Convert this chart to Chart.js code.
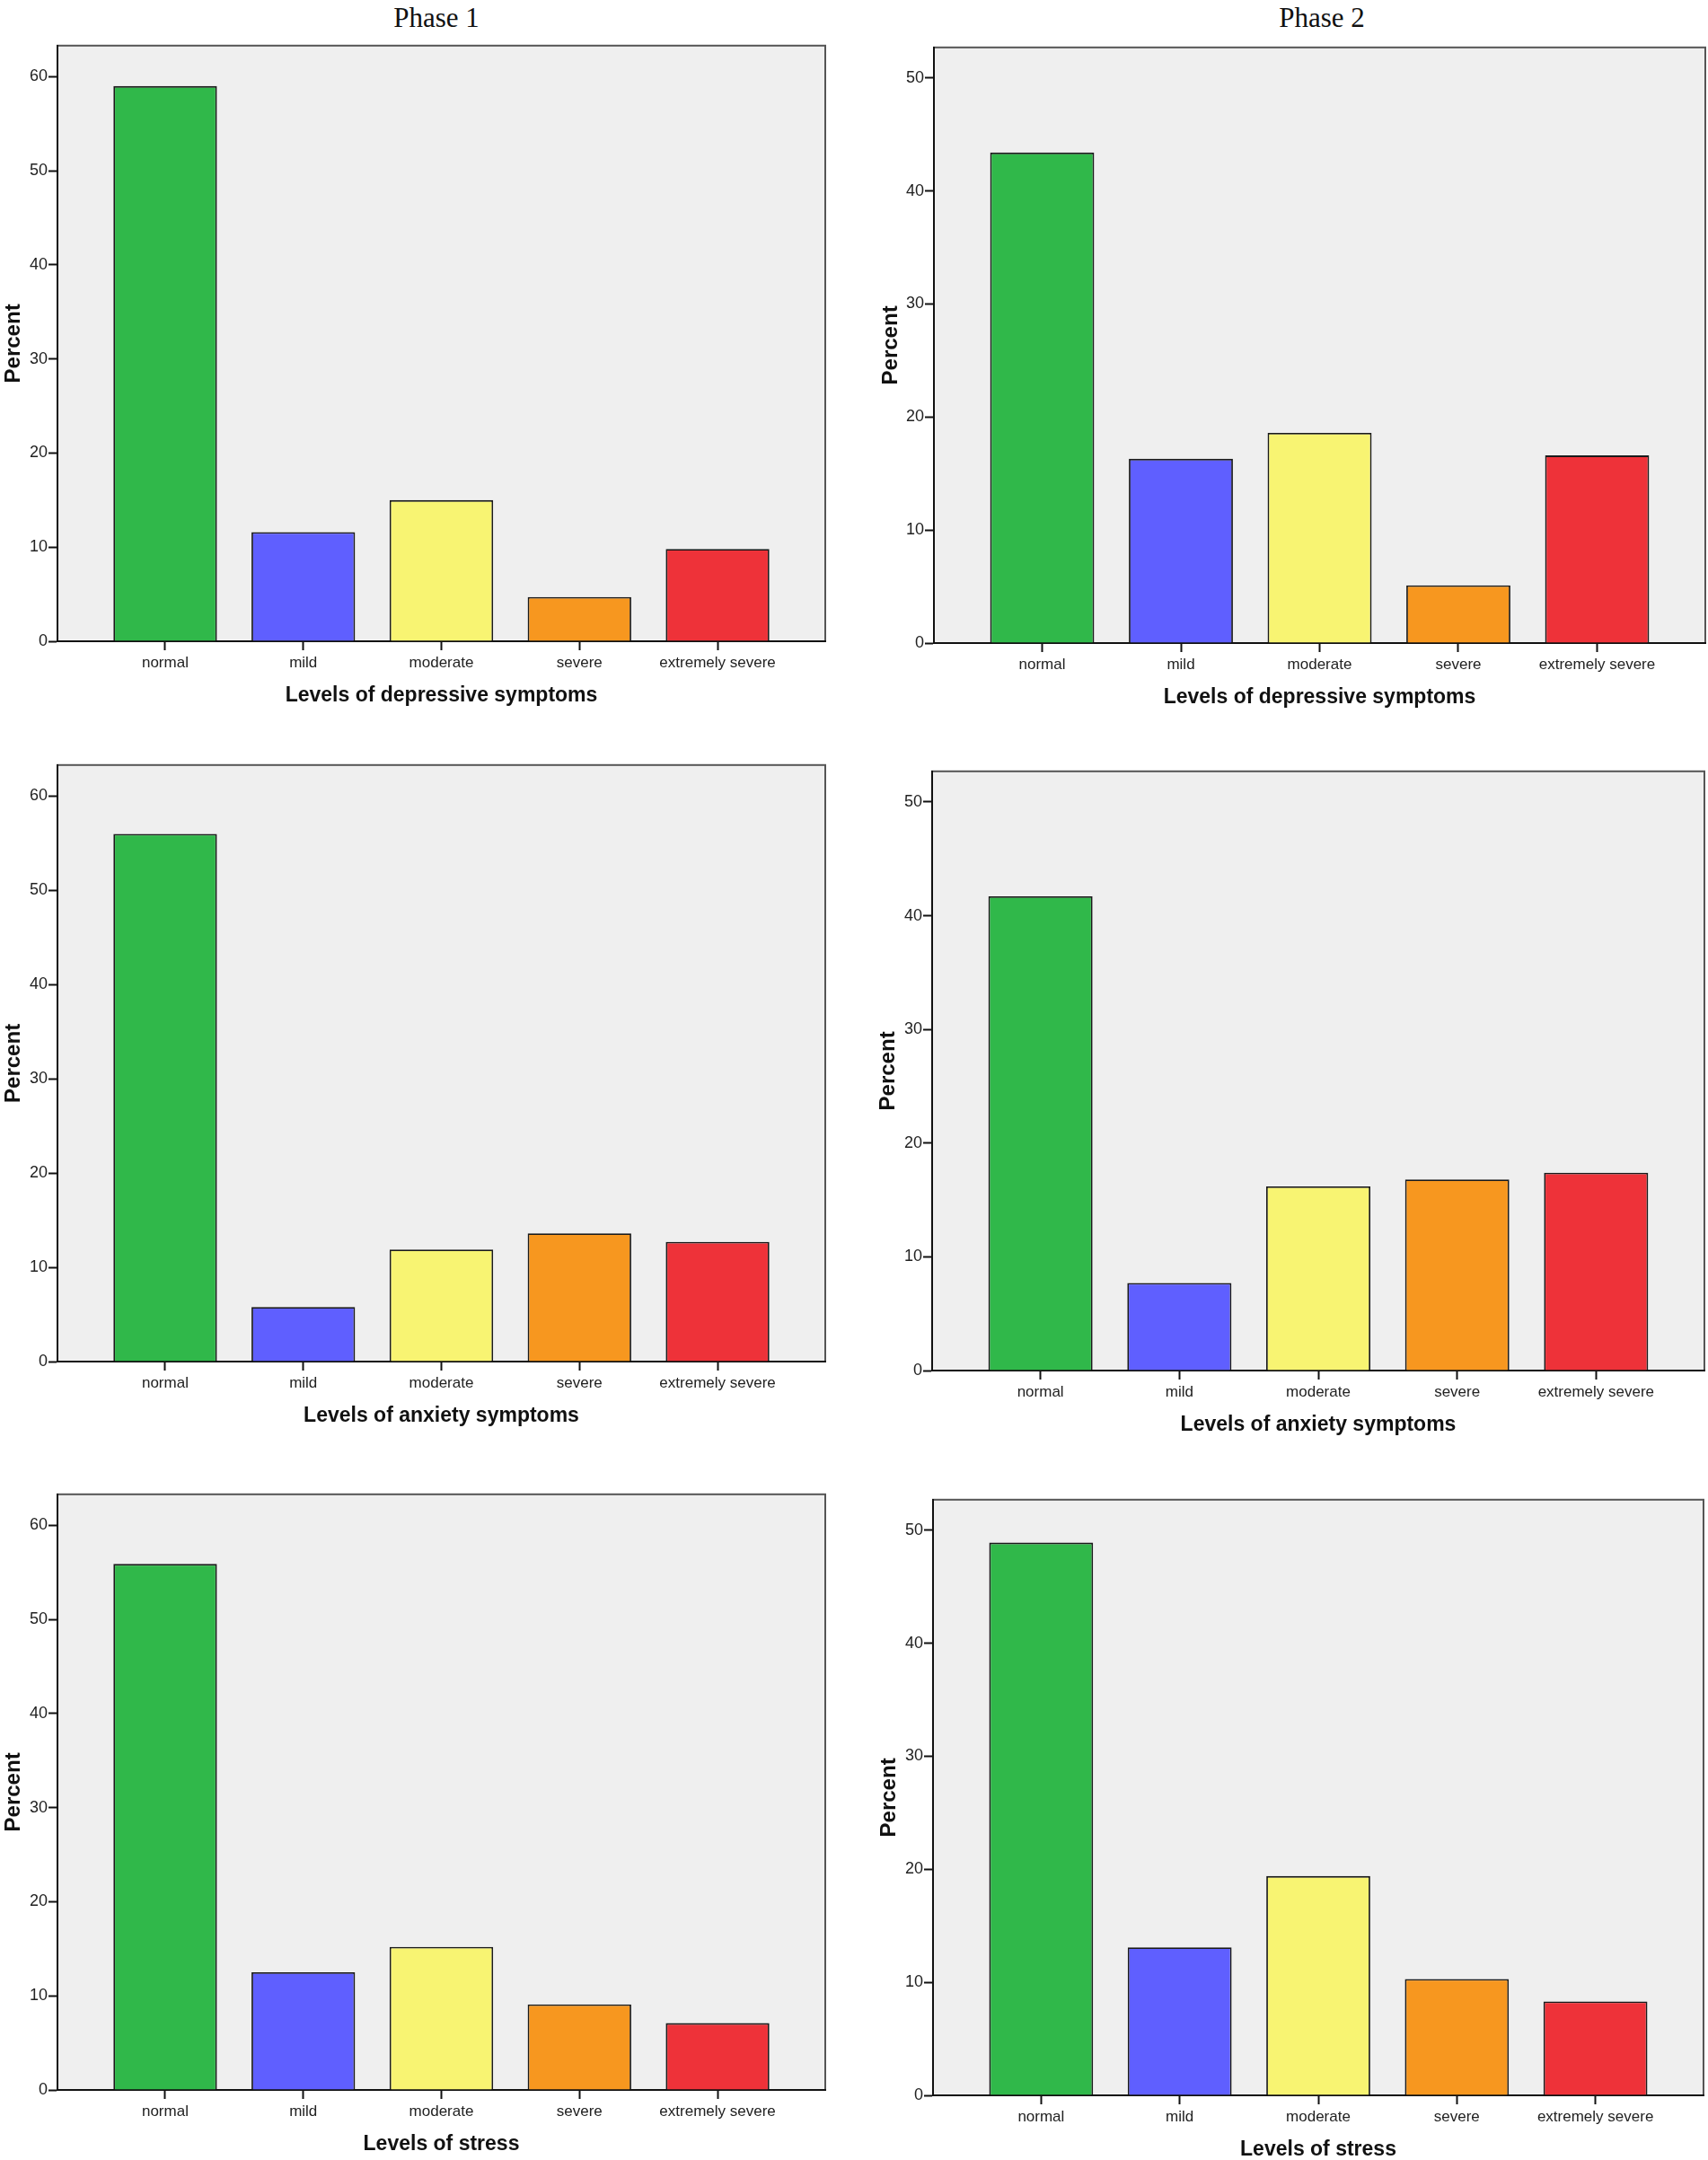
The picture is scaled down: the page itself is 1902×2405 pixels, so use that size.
<!DOCTYPE html>
<html>
<head>
<meta charset="utf-8">
<script src="https://cdn.jsdelivr.net/npm/chart.js@4.4.1/dist/chart.umd.min.js"></script>
<style>
  body { margin: 0; background: #fff; width: 1902px; height: 2405px; position: relative; overflow: hidden; }
  canvas { position: absolute; }
  .phase {
    position: absolute; top: 4px; transform: translateX(-50%); white-space: nowrap;
    font-family: 'Liberation Serif', 'Times New Roman', serif; font-size: 31px; line-height: 31px; color: #111;
  }
</style>
</head>
<body>
<div class="phase" style="left:486px">Phase 1</div>
<div class="phase" style="left:1472px">Phase 2</div>
<canvas id="dep1"></canvas>
<canvas id="dep2"></canvas>
<canvas id="anx1"></canvas>
<canvas id="anx2"></canvas>
<canvas id="str1"></canvas>
<canvas id="str2"></canvas>
<script>
// categories and values (percent)
const categories = ['normal', 'mild', 'moderate', 'severe', 'extremely severe'];

const depressionPhase1 = [59.0, 11.6, 15.0, 4.7, 9.8];
const depressionPhase2 = [43.4, 16.3, 18.6, 5.1, 16.6];
const anxietyPhase1 = [56.0, 5.8, 11.9, 13.6, 12.7];
const anxietyPhase2 = [41.7, 7.7, 16.2, 16.8, 17.4];
const stressPhase1 = [55.9, 12.5, 15.2, 9.1, 7.1];
const stressPhase2 = [48.9, 13.1, 19.4, 10.3, 8.3];

const yTicksPhase1 = [0, 10, 20, 30, 40, 50, 60];
const yTicksPhase2 = [0, 10, 20, 30, 40, 50];

const barColors = ['#30b84a', '#5f5fff', '#f8f472', '#f7971f', '#ee3239'];

const tickFont = "'Liberation Sans', Arial, sans-serif";
const boldFont = "'Liberation Sans', Arial, sans-serif";

// plot box [left, right, top, bottom] in page pixels
const panels = [
  { id: 'dep1', values: depressionPhase1, ticks: yTicksPhase1, yMax: 63.3, title: 'Levels of depressive symptoms', box: [64, 919, 49, 714], percentX: 15, left: 0 },
  { id: 'dep2', values: depressionPhase2, ticks: yTicksPhase2, yMax: 52.7, title: 'Levels of depressive symptoms', box: [1040, 1899, 51, 716], percentX: 992, left: 960 },
  { id: 'anx1', values: anxietyPhase1, ticks: yTicksPhase1, yMax: 63.3, title: 'Levels of anxiety symptoms', box: [64, 919, 850, 1516], percentX: 15, left: 0 },
  { id: 'anx2', values: anxietyPhase2, ticks: yTicksPhase2, yMax: 52.7, title: 'Levels of anxiety symptoms', box: [1038, 1898, 857, 1526], percentX: 989, left: 960 },
  { id: 'str1', values: stressPhase1, ticks: yTicksPhase1, yMax: 63.3, title: 'Levels of stress', box: [64, 919, 1662, 2327], percentX: 15, left: 0 },
  { id: 'str2', values: stressPhase2, ticks: yTicksPhase2, yMax: 52.7, title: 'Levels of stress', box: [1039, 1897, 1668, 2333], percentX: 990, left: 960 }
];

const padTop = 10;
const padRight = 3;
const xAxisHeight = 76;

// grey plot background with a thin frame
const plotBackground = {
  id: 'plotBackground',
  beforeDraw(chart) {
    const { ctx, chartArea: a } = chart;
    ctx.save();
    ctx.fillStyle = '#efefef';
    ctx.fillRect(a.left, a.top, a.width, a.height);
    ctx.strokeStyle = '#555';
    ctx.lineWidth = 2;
    ctx.strokeRect(a.left, a.top, a.width, a.height);
    ctx.restore();
  }
};

function drawPanel(p) {
  const [boxL, boxR, boxT, boxB] = p.box;
  const canvas = document.getElementById(p.id);
  const padLeft = p.percentX - p.left - 14.4;
  const yAxisWidth = boxL - p.left - padLeft;

  canvas.width = boxR + padRight - p.left;
  canvas.height = padTop + (boxB - boxT) + xAxisHeight;
  canvas.style.left = p.left + 'px';
  canvas.style.top = (boxT - padTop) + 'px';

  new Chart(canvas, {
    type: 'bar',
    data: {
      datasets: [{
        data: p.values.map((v, i) => ({ x: i, y: v })),
        backgroundColor: barColors,
        borderColor: '#1a1a1a',
        borderWidth: 1.8,
        barPercentage: 0.75,
        categoryPercentage: 1
      }]
    },
    options: {
      responsive: false,
      animation: false,
      layout: { padding: { left: padLeft, top: padTop, right: padRight, bottom: 0 } },
      plugins: { legend: { display: false }, tooltip: { enabled: false } },
      scales: {
        x: {
          type: 'linear',
          offset: false,
          min: -0.78,
          max: 4.78,
          afterBuildTicks: s => { s.ticks = categories.map((c, i) => ({ value: i })); },
          afterFit: s => { s.height = xAxisHeight; },
          grid: { offset: false, drawOnChartArea: false, tickLength: 10, tickColor: '#111', tickWidth: 2 },
          border: { color: '#111', width: 2 },
          ticks: {
            autoSkip: false, maxRotation: 0, padding: 4, color: '#222',
            font: { family: tickFont, size: 17 },
            callback: v => categories[v] ?? ''
          },
          title: {
            display: true, text: p.title, color: '#111',
            font: { family: boldFont, size: 23, weight: 'bold' },
            padding: { top: 0, bottom: 2 }
          }
        },
        y: {
          min: 0,
          max: p.yMax,
          afterBuildTicks: s => { s.ticks = p.ticks.map(v => ({ value: v })); },
          afterFit: s => { s.width = yAxisWidth; },
          grid: { drawOnChartArea: false, tickLength: 10, tickColor: '#111', tickWidth: 2 },
          border: { color: '#111', width: 2 },
          ticks: { padding: 1, color: '#222', font: { family: tickFont, size: 18 } },
          title: {
            display: true, text: 'Percent', color: '#111',
            font: { family: boldFont, size: 24, weight: 'bold' },
            padding: 0
          }
        }
      }
    },
    plugins: [plotBackground]
  });
}

panels.forEach(drawPanel);
</script>
</body>
</html>
